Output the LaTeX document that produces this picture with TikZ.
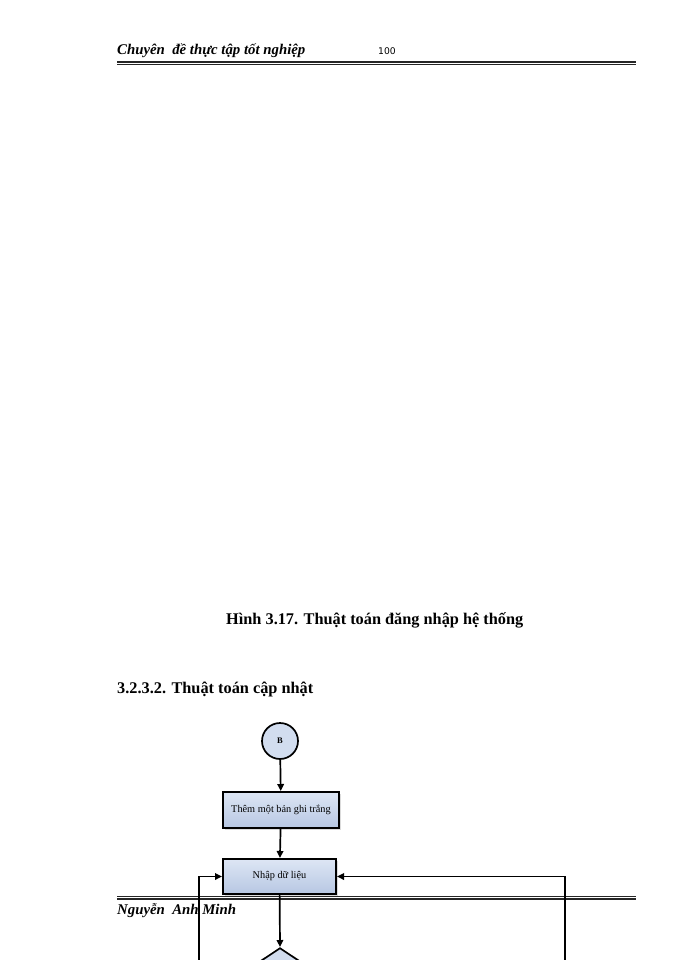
\documentclass[tikz,border=0pt]{standalone}
\usepackage{fontspec}
\setmainfont{Liberation Serif}
\newfontfamily\numfont{DejaVu Sans}
\usetikzlibrary{arrows.meta,shapes.geometric,shadows}
\definecolor{boxtop}{HTML}{DDE6F4}
\definecolor{boxbot}{HTML}{B7C7E3}
\tikzset{
  headtxt/.style={anchor=base west,inner sep=0pt,font=\fontsize{14.8}{16}\selectfont\bfseries\itshape},
  titletxt/.style={anchor=base west,inner sep=0pt,font=\fontsize{16.3}{18}\selectfont\bfseries},
  procbox/.style={draw=black,line width=2pt,top color=boxtop,bottom color=boxbot,
     inner sep=0pt,font=\fontsize{10.3}{11}\selectfont,
     drop shadow={shadow xshift=2pt,shadow yshift=-2pt,fill=gray!35,opacity=0.8}},
  termcirc/.style={circle,draw=black,line width=1.7pt,fill=boxtop!70!boxbot,minimum size=36pt,inner sep=0pt,
     font=\fontsize{8.5}{9}\selectfont\bfseries},
  decis/.style={diamond,draw=black,line width=1.7pt,fill=boxtop!70!boxbot,minimum width=120pt,minimum height=80pt,inner sep=0pt,aspect=1.5},
  flow/.style={line width=1.7pt,-{Triangle[length=7pt,width=6.5pt]}},
  rule/.style={line width=#1,black!85}
}
\begin{document}
\begin{tikzpicture}[x=1pt,y=-1pt]
\clip (0,0) rectangle (700,960);
\fill[white] (0,0) rectangle (700,960);
% header
\node[headtxt] (head) at (117,55) {Chuyên\ \ đề thực tập tốt nghiệp};
\node[anchor=base west,inner sep=0pt,font=\numfont\fontsize{9.2}{11}\selectfont] (pnum) at (378,55) {100};
\draw[rule=2.2pt] (117,62) -- (636,62);
\draw[rule=0.6pt] (117,64.6) -- (636,64.6);
% captions
\node[titletxt] (cap) at (226,624) {Hình 3.17. Thuật toán đăng nhập hệ thống};
\node[titletxt] (sec) at (117,693) {3.2.3.2. Thuật toán cập nhật};
% footer
\draw[rule=0.6pt] (117,896) -- (636,896);
\draw[rule=2.2pt] (117,898.8) -- (636,898.8);
\node[headtxt] (foot) at (117,914) {Nguyễn\ \ Anh Minh};
% flowchart
\node[termcirc] (B) at (280,741) {B};
\node[procbox,minimum width=116pt,minimum height=36pt] (add) at (281,810) {Thêm một bản ghi trắng};
\node[procbox,minimum width=113pt,minimum height=35pt] (input) at (279.5,876.5) {Nhập dữ liệu};
\node[decis,anchor=north] (chk) at (280,947) {};
\coordinate (lb) at (199,962);
\coordinate (rb) at (565,962);
\draw[flow] (B) -- (add);
\draw[flow] (add) -- (input);
\draw[flow] (input) -- (chk.north);
\draw[flow] (lb) |- (input.west);
\draw[flow] (rb) |- (input.east);
\end{tikzpicture}
\end{document}
